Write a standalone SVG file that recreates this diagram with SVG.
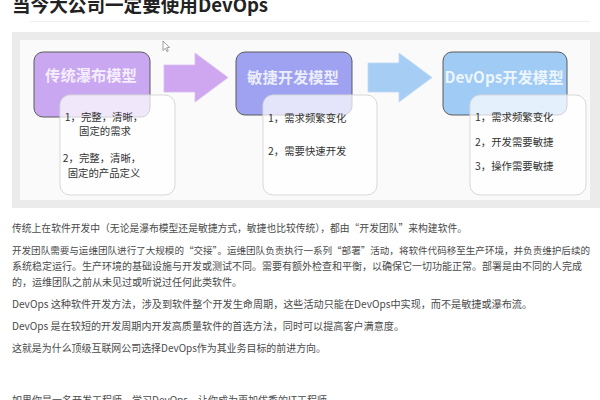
<svg xmlns="http://www.w3.org/2000/svg" width="600" height="400" viewBox="0 0 600 400">
<style>
text{font-family:"Noto Sans CJK SC","Liberation Sans",sans-serif;}
.title{font-size:18.6px;font-weight:bold;fill:#222;}
.para{font-size:10px;fill:#4a4a4a;}
.hdr{stroke:#5a5a5a;stroke-width:1;}
.htxt{font-size:15.3px;font-weight:bold;fill:#ffffff;fill-opacity:0.82;text-anchor:middle;}
.card{fill:#ffffff;fill-opacity:0.72;stroke:#d8d8d8;stroke-width:1;}
.ctxt{font-size:10.4px;fill:#333;}
</style>
<rect x="0" y="0" width="600" height="400" fill="#ffffff"/>
<text class="title" x="12" y="12">当今大公司一定要使用DevOps</text>
<line x1="30" y1="21.5" x2="590" y2="21.5" stroke="#efefef" stroke-width="1"/>
<rect x="12" y="32" width="588" height="176" fill="#ebebeb"/>
<rect x="20" y="40" width="570" height="160" fill="#fafafb"/>
<g id="connectors">
<polygon points="164,65 195,65 195,53 228,77.5 195,102 195,92 164,92" fill="#cfa6f0" stroke="#d9bdf3" stroke-width="0.8"/>
<polygon points="368,63 399,63 399,53 432,77.5 399,102 399,92 368,92" fill="#a6cdf4" stroke="#bcd9f6" stroke-width="0.8"/>
</g>
<g id="waterfall">
<rect class="hdr" x="34" y="52" width="116" height="65" rx="9" fill="#c9a8f1"/>
<text class="htxt" x="91" y="80.5">传统瀑布模型</text>
<rect class="card" x="60" y="95" width="115" height="100" rx="10"/>
<g class="ctxt" text-anchor="middle">
<text x="104" y="121">1，完整，清晰，</text>
<text x="105" y="134.5">固定的需求</text>
<text x="102" y="162">2，完整，清晰，</text>
<text x="104" y="176.5">固定的产品定义</text>
</g>
</g>
<g id="agile">
<rect class="hdr" x="236" y="52" width="116" height="63" rx="9" fill="#9ea2f0" stroke="#8f93e0"/>
<text class="htxt" x="293" y="83">敏捷开发模型</text>
<rect class="card" x="263" y="95" width="114" height="100" rx="10"/>
<text class="ctxt" x="268" y="122">1，需求频繁变化</text>
<text class="ctxt" x="268" y="155">2，需要快速开发</text>
</g>
<g id="devops">
<rect class="hdr" x="443" y="52" width="124" height="63" rx="9" fill="#9fcbf5"/>
<text class="htxt" x="504" y="83" font-size="15.5">DevOps开发模型</text>
<rect class="card" x="470" y="95" width="116" height="100" rx="10"/>
<text class="ctxt" x="475" y="121">1，需求频繁变化</text>
<text class="ctxt" x="475" y="146">2，开发需要敏捷</text>
<text class="ctxt" x="475" y="170">3，操作需要敏捷</text>
</g>
<polygon points="163,41 163,50.5 165.3,48.3 167,51.6 168.3,51 166.7,47.7 169.6,47.5" fill="#ffffff" stroke="#777" stroke-width="0.7"/>
<g class="para">
<text x="12" y="231.5" textLength="455" lengthAdjust="spacingAndGlyphs">传统上在软件开发中（无论是瀑布模型还是敏捷方式，敏捷也比较传统），都由“开发团队”来构建软件。</text>
<text x="12" y="253.5" font-size="9.5" textLength="578" lengthAdjust="spacingAndGlyphs">开发团队需要与运维团队进行了大规模的“交接”。运维团队负责执行一系列“部署”活动，将软件代码移至生产环境，并负责维护后续的</text>
<text x="12" y="270" textLength="570" lengthAdjust="spacingAndGlyphs">系统稳定运行。生产环境的基础设施与开发或测试不同。需要有额外检查和平衡，以确保它一切功能正常。部署是由不同的人完成</text>
<text x="12" y="285.5">的，运维团队之前从未见过或听说过任何此类软件。</text>
<text x="12" y="307.5" textLength="520" lengthAdjust="spacingAndGlyphs">DevOps 这种软件开发方法，涉及到软件整个开发生命周期，这些活动只能在DevOps中实现，而不是敏捷或瀑布流。</text>
<text x="12" y="330" textLength="392" lengthAdjust="spacingAndGlyphs">DevOps 是在较短的开发周期内开发高质量软件的首选方法，同时可以提高客户满意度。</text>
<text x="12" y="352" textLength="314" lengthAdjust="spacingAndGlyphs">这就是为什么顶级互联网公司选择DevOps作为其业务目标的前进方向。</text>
<text x="12" y="404">如果你是一名开发工程师，学习DevOps，让你成为更加优秀的IT工程师</text>
</g>
</svg>
